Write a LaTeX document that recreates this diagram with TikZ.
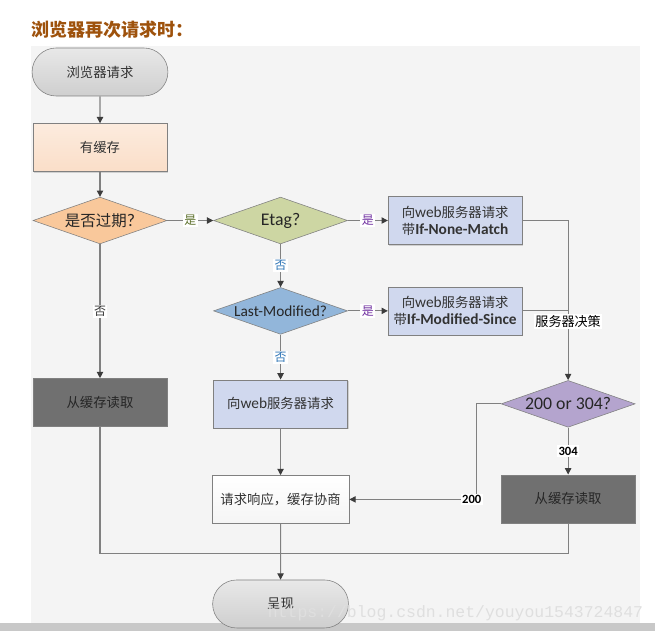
\documentclass[tikz,border=0pt]{standalone}
\usepackage{fontspec}
\setmainfont{Noto Sans CJK SC}
\newfontfamily\lat[Scale=1.15]{Carlito}
\newfontfamily\wmfont{Liberation Mono}
\usetikzlibrary{shapes.geometric,shapes.misc,positioning,arrows.meta,shadows}
\definecolor{panelgray}{RGB}{244,244,244}
\definecolor{bargray}{RGB}{200,200,200}
\definecolor{linegray}{RGB}{128,128,128}
\definecolor{tipgray}{RGB}{60,60,60}
\definecolor{titlebrown}{RGB}{158,82,12}
\definecolor{peach}{RGB}{250,222,200}
\definecolor{orangefill}{RGB}{249,200,155}
\definecolor{greenfill}{RGB}{205,214,163}
\definecolor{bluefill}{RGB}{146,182,218}
\definecolor{lavender}{RGB}{208,216,238}
\definecolor{purplefill}{RGB}{180,164,206}
\definecolor{darkbox}{RGB}{112,112,112}
\definecolor{olivetext}{RGB}{90,110,40}
\definecolor{violettext}{RGB}{112,48,160}
\definecolor{bluetext}{RGB}{46,117,182}
\tikzset{
    box/.style={
        rectangle,draw=linegray,minimum width=3.35cm,minimum height=1.2cm,
        font=\fontsize{9.5}{12}\selectfont,text=black!80,align=center,
        drop shadow={shadow xshift=.7pt,shadow yshift=-.7pt,opacity=.3}
    },
    termnode/.style={
        rounded rectangle,draw=linegray,minimum width=3.63cm,minimum height=1.2cm,
        top color=gray!18,bottom color=gray!38,font=\fontsize{9.5}{12}\selectfont,text=black!80
    },
    decision/.style={
        diamond,draw=linegray,aspect=3,inner sep=0pt,minimum width=3.35cm,minimum height=1.17cm,
        font=\fontsize{11}{13}\selectfont,text=black!85
    },
    lbl/.style={
        fill=white,inner sep=1pt,font=\fontsize{8.5}{10}\selectfont
    },
    numlbl/.style={
        lbl,font=\lat\bfseries\fontsize{7.8}{9}\selectfont
    },
    line/.style={draw=linegray,line width=.8pt},
    flow/.style={line,-{Triangle[length=4.5pt,width=4.5pt,fill=tipgray,color=tipgray]}}
}

\begin{document}
\begin{tikzpicture}
\useasboundingbox (0,0) rectangle (16.375,-15.775);
\fill[panelgray] (.775,-1.15) rectangle (16,-15.575);
\fill[bargray] (0,-15.575) rectangle (16.375,-15.775);
\node[anchor=west,text=titlebrown,font=\fontsize{12.8}{15}\selectfont\bfseries] (title) at (.66,-.75) {浏览器再次请求时：};
\node[termnode] (start) at (2.5,-1.8) {浏览器请求};
\node[box,top color=peach!60,bottom color=peach,below=.675cm of start] (cache) {有缓存};
\node[decision,fill=orangefill,below=.625cm of cache] (expired) {是否过期{\lat ?}};
\node[box,fill=darkbox,text=black!85,below=3.35cm of expired] (readcache) {从缓存读取};
\node[decision,fill=greenfill,right=1.15cm of expired] (etag) {\lat Etag?};
\node[box,fill=lavender,right=1cm of etag] (nonematch) {向{\lat web}服务器请求\\带{\lat\bfseries If-None-Match}};
\node[decision,fill=bluefill,below=1.075cm of etag,font=\fontsize{9.5}{12}\selectfont] (lastmod) {\lat Last-Modified?};
\node[box,fill=lavender,right=1cm of lastmod] (modsince) {向{\lat web}服务器请求\\带{\lat\bfseries If-Modified-Since}};
\node[box,fill=lavender,below=1.125cm of lastmod] (reqweb) {向{\lat web}服务器请求};
\node[box,top color=white,bottom color=gray!8,minimum width=3.425cm,below=1.175cm of reqweb] (negotiate) {请求响应，缓存协商};
\node[termnode,below=1.4cm of negotiate] (show) {呈现};
\node[decision,fill=purplefill,right=3.825cm of reqweb] (status) {\lat 200 or 304?};
\node[box,fill=darkbox,text=black!85,below=1.175cm of status] (readcache2) {从缓存读取};
\coordinate[below=.75cm of negotiate] (merge);
\draw[flow] (start) -- (cache);
\draw[flow] (cache) -- (expired);
\draw[flow] (expired) -- node[lbl,text=olivetext] {是} (etag);
\draw[flow] (expired) -- node[lbl,text=black!80] {否} (readcache);
\draw[flow] (etag) -- node[lbl,text=violettext] {是} (nonematch);
\draw[flow] (etag) -- node[lbl,text=bluetext] {否} (lastmod);
\draw[flow] (lastmod) -- node[lbl,text=violettext] {是} (modsince);
\draw[flow] (lastmod) -- node[lbl,text=bluetext] {否} (reqweb);
\draw[flow] (reqweb) -- (negotiate);
\draw[flow] (negotiate) -- (show);
\draw[flow] (nonematch) -| node[pos=.815,lbl,font=\fontsize{9.3}{11}\selectfont] {服务器决策} (status);
\draw[line] (modsince) -- (modsince -| status);
\draw[flow] (status) -- node[numlbl] {304} (readcache2);
\draw[flow] (status.west) -- ++(-.6cm,0) |- node[pos=.52,numlbl] {200} (negotiate.east);
\draw[line] (readcache) |- (merge);
\draw[line] (readcache2) |- (merge);
\node[anchor=base west,text=gray!25,font=\wmfont\fontsize{11.7}{14}\selectfont] (wmark) at (6.575,-15.43) {https://blog.csdn.net/youyou1543724847};
\end{tikzpicture}
\end{document}
